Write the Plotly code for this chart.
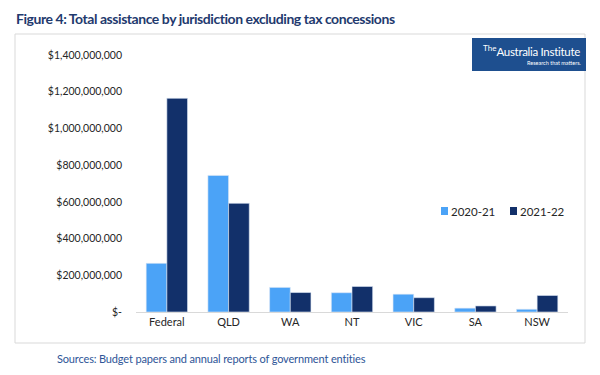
import plotly.graph_objects as go

categories = ["Federal", "QLD", "WA", "NT", "VIC", "SA", "NSW"]
values_2020_21 = [265e6, 744e6, 134e6, 105e6, 97e6, 21e6, 15e6]
values_2021_22 = [1164e6, 592e6, 106e6, 139e6, 78e6, 33e6, 90e6]
series_names = ["2020-21", "2021-22"]
tick_vals = [0, 200e6, 400e6, 600e6, 800e6, 1000e6, 1200e6, 1400e6]
tick_text = ["$-", "$200,000,000", "$400,000,000", "$600,000,000", "$800,000,000",
             "$1,000,000,000", "$1,200,000,000", "$1,400,000,000"]

W, H = 600, 375
L, R, T, B = 136, 32, 55, 63
pw, ph = W - L - R, H - T - B

def px(x):
    return (x - L) / pw

def py(y):
    return (H - B - y) / ph

FONT = "Lato"
LIGHT = "#4BA3F7"
DARK = "#12306A"

fig = go.Figure()
fig.add_trace(go.Bar(name=series_names[0], x=categories, y=values_2020_21,
                     marker=dict(color=LIGHT, line=dict(color="#DDE8F5", width=0.6))))
fig.add_trace(go.Bar(name=series_names[1], x=categories, y=values_2021_22,
                     marker=dict(color=DARK, line=dict(color="#DDE8F5", width=0.6))))

shapes = [
    dict(type="rect", xref="paper", yref="paper", x0=px(15), x1=px(585), y0=py(343), y1=py(34),
         line=dict(color="#D9D9D9", width=1), fillcolor="rgba(0,0,0,0)", layer="below"),
    dict(type="rect", xref="paper", yref="paper", x0=px(472), x1=px(586), y0=py(71), y1=py(38),
         line=dict(width=0), fillcolor="#1E4F8F"),
    # legend swatches
    dict(type="rect", xref="paper", yref="paper", x0=px(441), x1=px(448), y0=py(215), y1=py(207),
         line=dict(width=0), fillcolor=LIGHT),
    dict(type="rect", xref="paper", yref="paper", x0=px(510), x1=px(517), y0=py(215), y1=py(207),
         line=dict(width=0), fillcolor=DARK),
]

def sp(text, ls):
    return f"<span style='letter-spacing:{ls}px'>{text}</span>"

annotations = [
    dict(text="<b>" + sp("Figure 4: Total assistance by jurisdiction excluding tax concessions", -0.45) + "</b>",
         xref="paper", yref="paper", x=px(14), y=py(18), xanchor="left", yanchor="middle",
         showarrow=False, font=dict(family=FONT, size=14, color="#1F3A6E")),
    dict(text=sp("Sources: Budget papers and annual reports of government entities", -0.15),
         xref="paper", yref="paper", x=px(55), y=py(358), xanchor="left", yanchor="middle",
         showarrow=False, font=dict(family=FONT, size=11, color="#2E5597")),
    dict(text="<sup style='font-size:6px'>The</sup>" + sp("Australia Institute", -0.3),
         xref="paper", yref="paper", x=px(531), y=py(50), xanchor="center", yanchor="middle",
         showarrow=False, font=dict(family=FONT, size=11.5, color="white")),
    dict(text="Research that matters.",
         xref="paper", yref="paper", x=px(583), y=py(63), xanchor="right", yanchor="middle",
         showarrow=False, font=dict(family=FONT, size=5.5, color="white")),
    dict(text=series_names[0], xref="paper", yref="paper", x=px(449), y=py(211),
         xanchor="left", yanchor="middle", showarrow=False,
         font=dict(family=FONT, size=11.5, color="#262626")),
    dict(text=series_names[1], xref="paper", yref="paper", x=px(518), y=py(211),
         xanchor="left", yanchor="middle", showarrow=False,
         font=dict(family=FONT, size=11.5, color="#262626")),
]

fig.update_layout(
    width=W, height=H,
    margin=dict(l=L, r=R, t=T, b=B),
    paper_bgcolor="white", plot_bgcolor="white",
    barmode="group", bargap=0.33, bargroupgap=0,
    font=dict(family=FONT, size=11, color="#404040"),
    showlegend=False,
    xaxis=dict(showgrid=False, showline=True, linecolor="#D9D9D9", linewidth=1,
               ticks="", tickfont=dict(family=FONT, size=11, color="#262626")),
    yaxis=dict(range=[0, 1400e6], tickvals=tick_vals, ticktext=tick_text, showgrid=False,
               zeroline=False, showline=False, ticks="", ticklabelstandoff=13,
               tickfont=dict(family=FONT, size=10.5, color="#262626")),
    shapes=shapes, annotations=annotations,
)

fig.write_html("out.html", config={"displayModeBar": False},
               post_script="document.body.style.margin='0';document.body.style.padding='0';")
